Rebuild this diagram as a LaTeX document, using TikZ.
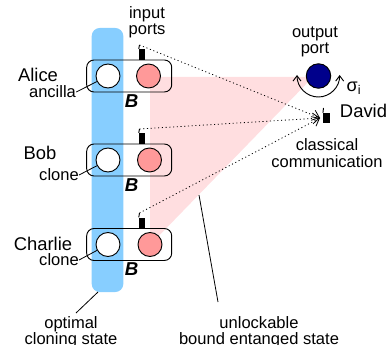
\documentclass[tikz,border=0pt]{standalone}
\usepackage{fontspec}
\setmainfont{Liberation Sans}
\usetikzlibrary{arrows.meta}
\definecolor{bluebar}{RGB}{135,206,255}
\definecolor{pinkbg}{RGB}{255,222,224}
\definecolor{pinkc}{RGB}{255,153,153}
\definecolor{navyc}{RGB}{0,0,139}
\tikzset{x=0.75pt,y=-0.75pt,
 lab/.style={inner sep=0,align=center,font=\fontsize{12.4pt}{12.2pt}\selectfont},
 person/.style={inner sep=0,font=\fontsize{13.8pt}{14pt}\selectfont},
 pairbox/.style={draw=black,line width=0.7pt,rounded corners=5.5pt,minimum width=63.75pt,minimum height=24pt,inner sep=0},
 qubit/.style={circle,draw=black,line width=0.7pt,minimum size=18pt,inner sep=0},
 portbar/.style={fill=black,draw=none,minimum width=4.5pt,minimum height=8pt,inner sep=0},
 dots/.style={line width=0.6pt,dash pattern=on 0.8pt off 2pt},
 lead/.style={draw=black,line width=0.6pt},
 bb/.style={inner sep=0,font=\fontsize{14pt}{14pt}\selectfont\bfseries\itshape}}
\begin{document}
\begin{tikzpicture}
\useasboundingbox (0,0) rectangle (388,345);
\fill[bluebar,rounded corners=6pt] (91.7,28) rectangle (123.3,292);
\fill[pinkbg] (150,77) -- (313,77) -- (150,245) -- cycle;
\node[pairbox] (boxA) at (129.2,76) {};
\node[pairbox] (boxB) at (129.2,160) {};
\node[pairbox] (boxC) at (129.2,244.5) {};
\node[qubit,fill=white] (wA) at (108,76) {};
\node[qubit,fill=white] (wB) at (108,160) {};
\node[qubit,fill=white] (wC) at (108,244.5) {};
\node[qubit,fill=pinkc] (pA) at (148.5,76) {};
\node[qubit,fill=pinkc] (pB) at (149.5,160) {};
\node[qubit,fill=pinkc] (pC) at (150,244.5) {};
\node[portbar] (portA) at (142,54.5) {};
\node[portbar] (portB) at (142,138.5) {};
\node[portbar] (portC) at (142,223) {};
\coordinate (tipA) at (139.5,45);
\coordinate (tipB) at (139.5,129);
\coordinate (tipC) at (139.5,213);
\node[portbar,minimum width=5pt,minimum height=7.5pt] (portD) at (326.5,118) {};
\coordinate (tipD) at (323.5,108);
\coordinate (headD) at (320,118);
\draw[line width=0.7pt] (tipA) -- (portA.north west);
\draw[line width=0.7pt] (tipB) -- (portB.north west);
\draw[line width=0.7pt] (tipC) -- (portC.north west);
\draw[line width=0.7pt] (tipD) -- (portD.north west);
\draw[dots,-{Straight Barb[length=5pt,width=8pt]}] (tipA) -- (headD);
\draw[dots,-{Straight Barb[length=5pt,width=8pt]}] (tipB) -- (headD);
\draw[dots,-{Straight Barb[length=5pt,width=8pt]}] (tipC) -- (headD);
\node[qubit,fill=navyc,minimum size=18.4pt] (out) at (318.5,76) {};
\draw[line width=0.7pt,{Straight Barb[length=4pt,width=6pt]}-{Straight Barb[length=4pt,width=6pt]}] (297,75) arc[start angle=180,end angle=360,x radius=16pt,y radius=16.5pt];
\node[lab] (inp) at (147,22) {input\\ports};
\node[lab] (outp) at (315,42) {output\\port};
\node[person] (alice) at (38,75) {Alice};
\node[lab] (anc) at (52.5,92) {ancilla};
\node[person] (bob) at (40,153) {Bob};
\node[lab] (cl1) at (59,175) {clone};
\node[person] (charlie) at (43,243.5) {Charlie};
\node[lab] (cl2) at (59,260) {clone};
\node[bb] (bA) at (131.5,101.5) {B};
\node[bb] (bB) at (131.5,185.5) {B};
\node[bb] (bC) at (131.5,269) {B};
\node[inner sep=0,font=\fontsize{13.5pt}{14pt}\selectfont] (sig) at (354,88) {σ\textsubscript{i}};
\node[person] (david) at (363.5,110.6) {David};
\node[lab] (cc) at (327,153) {classical\\communication};
\node[lab] (ocs) at (71,332) {optimal\\cloning state};
\node[lab] (ubs) at (259,332) {unlockable\\bound entanged state};
\draw[lead] (anc.east) -- (wA);
\draw[lead] (cl1.east) -- (wB);
\draw[lead] (cl2.east) -- (wC);
\coordinate (leadBarT) at (98,292);
\coordinate (leadBarE) at (76,313);
\coordinate (leadPkT) at (199,195);
\coordinate (leadPkE) at (218,302);
\draw[lead] (leadBarT) -- (leadBarE);
\draw[lead] (leadPkT) -- (leadPkE);
\end{tikzpicture}
\end{document}
